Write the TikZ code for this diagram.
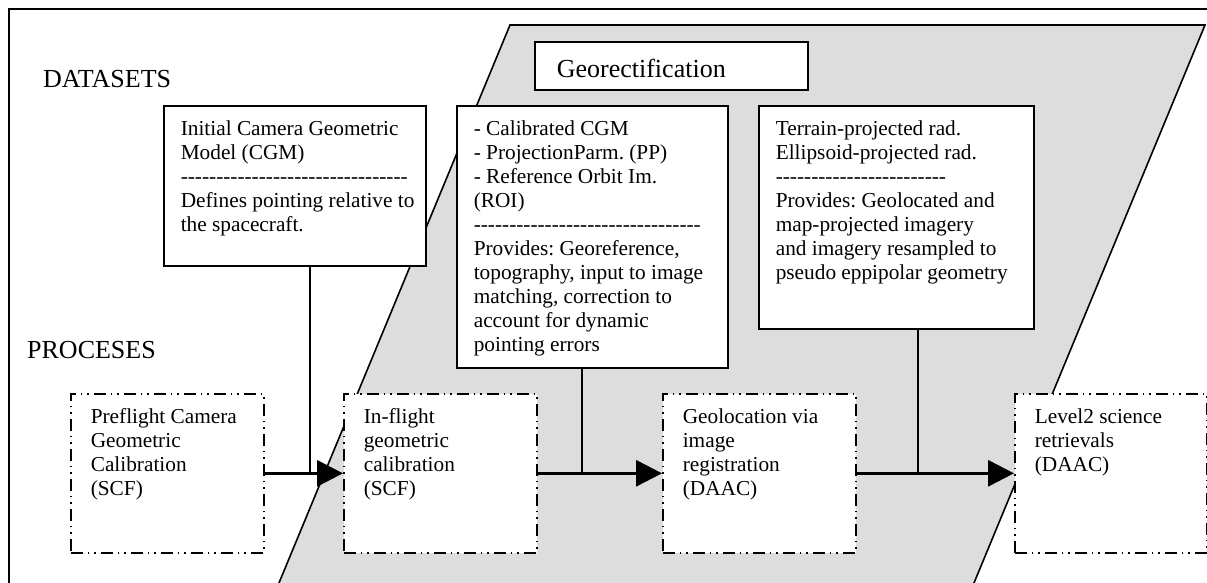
\documentclass[tikz,border=0pt]{standalone}
\usepackage{fontspec}
\setmainfont{Liberation Serif}[Ligatures=TeXOff]
\frenchspacing
\usetikzlibrary{arrows.meta, positioning}
\definecolor{geogray}{RGB}{221, 221, 221}
\newcommand{\boxtext}[3]{\parbox[c][#2][t]{#1}{\begin{tabular}[t]{@{}l@{}}#3\end{tabular}}}
\tikzset{
  databox/.style={rectangle, draw=black, line width=1.6pt, fill=white, anchor=north west,
                  inner xsep=17pt, inner ysep=13pt, font=\fontsize{21.3}{24}\selectfont},
  procbox/.style={rectangle, draw=black, line width=1.6pt, fill=white, anchor=north west,
                  dash pattern=on 12pt off 5pt on 1.5pt off 5pt on 1.5pt off 5pt,
                  inner xsep=20pt, inner ysep=13pt, font=\fontsize{21.3}{24}\selectfont},
  titlebox/.style={rectangle, draw=black, line width=1.6pt, fill=white, anchor=north west,
                   minimum width=273pt, minimum height=48pt, text width=229pt, inner xsep=22pt,
                   text height=24pt, text depth=0pt, align=left, font=\fontsize{26}{30}\selectfont},
  heading/.style={anchor=base west, inner sep=0pt, font=\fontsize{26}{30}\selectfont},
  flow/.style={-{Triangle[length=26pt, width=26pt]}, line width=3pt},
  link/.style={line width=1.3pt},
}
\begin{document}
\begin{tikzpicture}[x=1pt, y=-1pt]
  \useasboundingbox (0,0) rectangle (1207,582);
  % frame and georectification band
  \draw[line width=1.6pt] (9,9) rectangle (1220,595);
  \draw[line width=1.6pt, fill=geogray] (510,25) -- (1205,25) -- (969,595) -- (274,595) -- cycle;

  \node[heading] (datasets) at (43,87) {DATASETS};
  \node[heading] (processes) at (27,358) {PROCESES};
  \node[titlebox] (georect) at (534,41) {Georectification};

  % datasets
  \node[databox] (cgm) at (163,105) {\boxtext{228pt}{134pt}{%
      Initial Camera Geometric\\
      Model (CGM)\\
      --------------------------------\\
      Defines pointing relative to\\
      the spacecraft.}};
  \node[databox] (roi) at (456,105) {\boxtext{237pt}{236pt}{%
      - Calibrated CGM\\
      - ProjectionParm. (PP)\\
      - Reference Orbit Im.\\
      (ROI)\\
      --------------------------------\\
      Provides: Georeference,\\
      topography, input to image\\
      matching, correction to\\
      account for dynamic\\
      pointing errors}};
  \node[databox] (rad) at (758,105) {\boxtext{241pt}{197pt}{%
      Terrain-projected rad.\\
      Ellipsoid-projected rad.\\
      ------------------------\\
      Provides: Geolocated and\\
      map-projected imagery\\
      and imagery resampled to\\
      pseudo eppipolar geometry}};

  % processes
  \node[procbox] (prefl) at (70,393) {\boxtext{153pt}{133pt}{%
      Preflight Camera\\ Geometric\\ Calibration\\ (SCF)}};
  \node[procbox] (infl) at (343,393) {\boxtext{153pt}{133pt}{%
      In-flight\\ geometric\\ calibration\\ (SCF)}};
  \node[procbox] (geoloc) at (662,393) {\boxtext{153pt}{133pt}{%
      Geolocation via\\ image\\ registration\\ (DAAC)}};
  \node[procbox] (level2) at (1014,393) {\boxtext{152pt}{133pt}{%
      Level2 science\\ retrievals\\ (DAAC)}};

  \coordinate (j1) at (310,472.5);
  \coordinate (j2) at (582,472.5);
  \coordinate (j3) at (918,472.5);
  \draw[link] (cgm.south -| j1) -- (j1);
  \draw[link] (roi.south -| j2) -- (j2);
  \draw[link] (rad.south -| j3) -- (j3);

  \draw[flow] (prefl.east) -- (infl.west);
  \draw[flow] (infl.east) -- (geoloc.west);
  \draw[flow] (geoloc.east) -- (level2.west);
\end{tikzpicture}
\end{document}
